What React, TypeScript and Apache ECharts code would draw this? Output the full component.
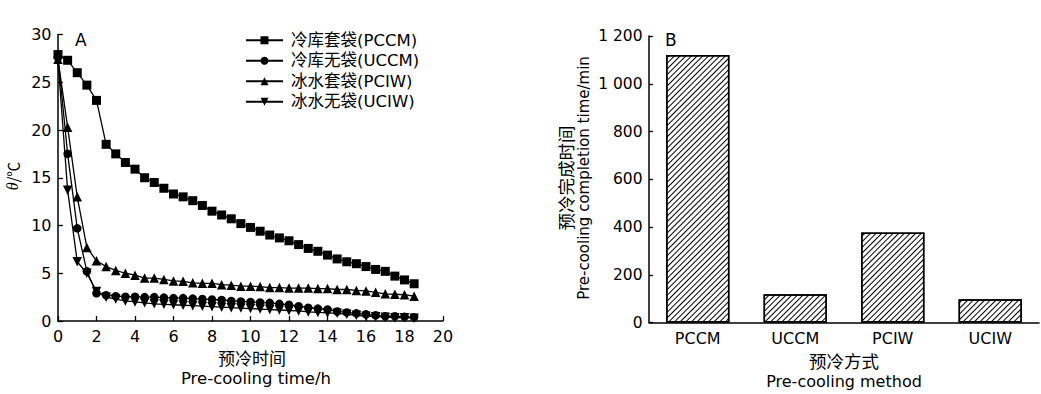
import React, { useEffect, useRef } from "react";
import * as echarts from "echarts";

// ---- Data (panel A) ----
const timeH = [0, 0.5, 1, 1.5, 2, 2.5, 3, 3.5, 4, 4.5, 5, 5.5, 6, 6.5, 7, 7.5, 8, 8.5, 9, 9.5, 10, 10.5, 11, 11.5, 12, 12.5, 13, 13.5, 14, 14.5, 15, 15.5, 16, 16.5, 17, 17.5, 18, 18.5];
const pccm = [27.9, 27.3, 26.0, 24.7, 23.1, 18.5, 17.5, 16.6, 15.9, 15.0, 14.5, 13.9, 13.3, 13.0, 12.6, 12.1, 11.5, 11.1, 10.7, 10.2, 9.8, 9.4, 9.0, 8.7, 8.4, 8.0, 7.6, 7.3, 6.9, 6.5, 6.2, 6.0, 5.7, 5.4, 5.2, 4.7, 4.3, 3.9];
const uccm = [27.6, 17.5, 9.7, 5.2, 2.9, 2.7, 2.6, 2.55, 2.55, 2.5, 2.5, 2.45, 2.4, 2.4, 2.35, 2.3, 2.25, 2.2, 2.1, 2.05, 2.0, 1.95, 1.9, 1.8, 1.7, 1.55, 1.4, 1.3, 1.2, 1.0, 0.9, 0.8, 0.7, 0.6, 0.5, 0.5, 0.45, 0.4];
const pciw = [27.4, 20.3, 13.0, 7.7, 6.3, 5.7, 5.3, 5.0, 4.8, 4.5, 4.5, 4.35, 4.2, 4.15, 4.0, 3.95, 3.95, 3.8, 3.75, 3.65, 3.65, 3.6, 3.5, 3.5, 3.45, 3.45, 3.45, 3.4, 3.4, 3.3, 3.3, 3.2, 3.15, 3.0, 2.85, 2.8, 2.75, 2.6];
const uciw = [27.2, 13.7, 6.2, 5.0, 3.1, 2.5, 2.3, 2.1, 2.0, 1.9, 1.8, 1.75, 1.7, 1.65, 1.6, 1.55, 1.5, 1.45, 1.4, 1.35, 1.3, 1.25, 1.2, 1.15, 1.1, 1.05, 0.95, 0.9, 0.85, 0.8, 0.7, 0.6, 0.5, 0.45, 0.4, 0.35, 0.35, 0.3];
const seriesNames = ["冷库套袋(PCCM)", "冷库无袋(UCCM)", "冰水套袋(PCIW)", "冰水无袋(UCIW)"];

// ---- Data (panel B) ----
const methods = ["PCCM", "UCCM", "PCIW", "UCIW"];
const completionMin = [1120, 118, 377, 97];

const FONT = "'DejaVu Sans', 'Noto Sans CJK SC', sans-serif";
const CJK = "'Noto Sans CJK SC', 'DejaVu Sans', sans-serif";

export default function App() {
  const ref = useRef<HTMLDivElement>(null);

  useEffect(() => {
    if (!ref.current) return;
    const chart = echarts.init(ref.current, undefined, { renderer: "svg" });

    const pair = (ys: number[]) => timeH.map((t, i) => [t, ys[i]]);
    const sets = [pccm, uccm, pciw, uciw];
    const symbols = ["rect", "circle", "triangle", "path://M0,0L2,0L1,1.8Z"];
    const sizes = [9, 8.5, 9.5, 9.5];

    const lineSeries = sets.map((ys, k) => ({
      name: seriesNames[k],
      type: "line",
      xAxisIndex: 0,
      yAxisIndex: 0,
      data: pair(ys),
      symbol: symbols[k],
      symbolSize: sizes[k],
      showAllSymbol: true,
      lineStyle: { color: "#000", width: 1.3 },
      itemStyle: { color: "#000", borderWidth: 0 },
      z: 10 - k,
    }));

    const axisLine = { show: true, lineStyle: { color: "#000", width: 1.5 } };
    const axisLabel = { color: "#000", fontSize: 16, fontFamily: FONT };

    chart.setOption({
      animation: false,
      backgroundColor: "#fff",
      grid: [
        { left: 58, top: 34.5, width: 385, height: 286.5, containLabel: false },
        { left: 649, top: 36, width: 390, height: 286.5, containLabel: false },
      ],
      legend: {
        data: seriesNames,
        orient: "vertical",
        left: 245,
        top: 32,
        padding: 0,
        itemWidth: 37,
        itemHeight: 10,
        itemGap: 4,
        textStyle: { color: "#000", fontSize: 16.5, fontFamily: FONT, padding: [0, 0, 0, 3] },
        inactiveColor: "#000",
      },
      xAxis: [
        {
          gridIndex: 0,
          type: "value",
          min: 0,
          max: 20,
          interval: 2,
          axisLine,
          axisTick: { show: true, inside: true, length: 5, lineStyle: { color: "#000", width: 1.3 } },
          axisLabel: { ...axisLabel, margin: 7 },
          splitLine: { show: false },
        },
        {
          gridIndex: 1,
          type: "category",
          data: methods,
          axisLine,
          axisTick: { show: false },
          axisLabel: { ...axisLabel, margin: 8 },
          splitLine: { show: false },
        },
      ],
      yAxis: [
        {
          gridIndex: 0,
          type: "value",
          min: 0,
          max: 30,
          interval: 5,
          axisLine,
          axisTick: { show: true, inside: true, length: 5, lineStyle: { color: "#000", width: 1.3 } },
          axisLabel: { ...axisLabel, margin: 6.5 },
          splitLine: { show: false },
        },
        {
          gridIndex: 1,
          type: "value",
          min: 0,
          max: 1200,
          interval: 200,
          axisLine,
          axisTick: { show: true, inside: true, length: 4, lineStyle: { color: "#000", width: 1.3 } },
          axisLabel: {
            ...axisLabel,
            fontSize: 15.5,
            margin: 6.5,
            formatter: (v: number) =>
              v >= 1000 ? `${Math.floor(v / 1000)} ${String(v % 1000).padStart(3, "0")}` : String(v),
          },
          splitLine: { show: false },
        },
      ],
      series: [
        ...lineSeries,
        {
          type: "bar",
          xAxisIndex: 1,
          yAxisIndex: 1,
          data: completionMin,
          barWidth: "65%",
          itemStyle: {
            color: "#fff",
            borderColor: "#000",
            borderWidth: 1.5,
            decal: {
              symbol: "rect",
              symbolSize: 1,
              color: "#000",
              backgroundColor: "#fff",
              dashArrayX: [1, 0],
              dashArrayY: [0.7, 2.7],
              rotation: -Math.PI / 4,
            },
          },
        },
      ],
      graphic: [
        { type: "text", left: 75, top: 31, style: { text: "A", fontSize: 17, fontFamily: FONT, fill: "#000" } },
        { type: "text", left: 665, top: 31, style: { text: "B", fontSize: 17, fontFamily: FONT, fill: "#000" } },
        {
          type: "text",
          x: 12,
          y: 176,
          rotation: Math.PI / 2,
          style: {
            text: "{i|θ}/℃",
            align: "center",
            verticalAlign: "middle",
            fontSize: 15,
            fontFamily: CJK,
            fill: "#000",
            rich: { i: { fontStyle: "italic", fontFamily: "'Liberation Serif', serif", fontSize: 16 } },
          },
        },
        {
          type: "text",
          x: 252,
          y: 357,
          style: { text: "预冷时间", align: "center", verticalAlign: "middle", fontSize: 17, fontFamily: CJK, fill: "#000" },
        },
        {
          type: "text",
          x: 256,
          y: 378,
          style: { text: "Pre-cooling time/h", align: "center", verticalAlign: "middle", fontSize: 16.5, fontFamily: FONT, fill: "#000" },
        },
        {
          type: "text",
          x: 565,
          y: 178,
          rotation: Math.PI / 2,
          style: { text: "预冷完成时间", align: "center", verticalAlign: "middle", fontSize: 17.5, fontFamily: CJK, fill: "#000" },
        },
        {
          type: "text",
          x: 584,
          y: 178,
          rotation: Math.PI / 2,
          style: { text: "Pre-cooling completion time/min", align: "center", verticalAlign: "middle", fontSize: 15, fontFamily: FONT, fill: "#000" },
        },
        {
          type: "text",
          x: 844,
          y: 360,
          style: { text: "预冷方式", align: "center", verticalAlign: "middle", fontSize: 17.5, fontFamily: CJK, fill: "#000" },
        },
        {
          type: "text",
          x: 844,
          y: 381,
          style: { text: "Pre-cooling method", align: "center", verticalAlign: "middle", fontSize: 16, fontFamily: FONT, fill: "#000" },
        },
      ],
    });

    return () => chart.dispose();
  }, []);

  return (
    <div
      ref={ref}
      style={{ position: "absolute", left: 0, top: 0, width: 1041, height: 394, background: "#fff" }}
    />
  );
}
